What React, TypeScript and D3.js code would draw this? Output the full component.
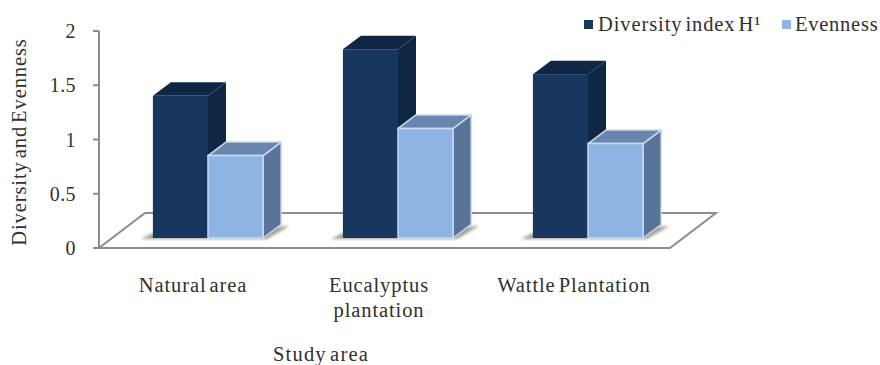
import React from "react";
import * as d3 from "d3";

const categories = ["Natural area", "Eucalyptus plantation", "Wattle Plantation"];
const categoryLines = [["Natural area"], ["Eucalyptus", "plantation"], ["Wattle Plantation"]];
const diversity = [1.31, 1.74, 1.51];
const evenness = [0.76, 1.01, 0.87];
const yTicks = [0, 0.5, 1, 1.5, 2];

const WIDTH = 880;
const HEIGHT = 365;
const FONT = "'Liberation Serif', serif";
const TEXT = "#303030";
const AXIS = "#8c8c8c";

// Floor plane corners and the oblique offset of the 3D projection
const axisX = 99;
const floorRight = 670;
const floorDepth = { dx: 46, dy: -35 };
const barDepth = { dx: 18, dy: -13.5 };
const barBaseY = 238;

const yAxis = d3.scaleLinear().domain([0, 2]).range([248, 31]);
const barHeight = (v: number) => yAxis(0) - yAxis(v);
const group = d3.scaleBand<string>().domain(categories).range([113, 683]).paddingInner(0.42).paddingOuter(0.21);
const series = d3.scaleBand<string>().domain(["d", "e"]).range([0, group.bandwidth()]);
const labelCentres = [193, 379, 574];

type Palette = { front: string; side: string; top: string; stroke: string };
const darkBar: Palette = { front: "#17375e", side: "#0f2745", top: "#0f2745", stroke: "none" };
const lightBar: Palette = { front: "#8eb4e3", side: "#5a7398", top: "#6a86ad", stroke: "#c6d9f1" };

const pts = (p: [number, number][]) => p.map((q) => q.join(",")).join(" ");

function Bar({ x, w, value, c }: { x: number; w: number; value: number; c: Palette }) {
  const top = barBaseY - barHeight(value);
  const { dx, dy } = barDepth;
  const sw = c.stroke === "none" ? 0 : 1.5;
  return (
    <g stroke={c.stroke} strokeWidth={sw} strokeLinejoin="round">
      <polygon points={pts([[x + w, top], [x + w + dx, top + dy], [x + w + dx, barBaseY + dy], [x + w, barBaseY]])} fill={c.side} />
      <polygon points={pts([[x, top], [x + dx, top + dy], [x + w + dx, top + dy], [x + w, top]])} fill={c.top} />
      <rect x={x} y={top} width={w} height={barBaseY - top} fill={c.front} />
    </g>
  );
}

export default function App() {
  const w = series.bandwidth();
  const line = d3.line();
  return (
    <svg
      width={WIDTH}
      height={HEIGHT}
      style={{ position: "absolute", left: 0, top: 0, background: "#fff", wordSpacing: -3 }}
      fontFamily={FONT}
      fontSize={20.5}
      letterSpacing={0.9}
      fill={TEXT}
    >
      <defs>
        <filter id="floorShadow" x="-20%" y="-50%" width="140%" height="200%">
          <feGaussianBlur stdDeviation="1.6" />
        </filter>
      </defs>

      {/* Value axis and floor outline */}
      <g fill="none" stroke={AXIS} strokeWidth={2}>
        <path d={line([[axisX, yAxis(2)], [axisX, yAxis(0)]])!} />
        {yTicks.map((t) => (
          <path key={t} d={line([[axisX - 6, yAxis(t)], [axisX, yAxis(t)]])!} />
        ))}
        <path
          d={line([
            [axisX, yAxis(0)],
            [axisX + floorDepth.dx, yAxis(0) + floorDepth.dy],
            [floorRight + floorDepth.dx, yAxis(0) + floorDepth.dy],
            [floorRight, yAxis(0)],
            [axisX, yAxis(0)],
          ])!}
        />
      </g>

      {yTicks.map((t) => (
        <text key={t} x={76} y={yAxis(t) + 7} textAnchor="end" fontSize={20} letterSpacing={0.4}>
          {t}
        </text>
      ))}

      {/* Bars, each pair with a soft shadow on the floor */}
      {categories.map((cat, i) => {
        const x0 = group(cat)!;
        const right = x0 + 2 * w;
        return (
          <g key={cat}>
            <polygon
              points={pts([[x0 - 12, barBaseY + 1], [right + 4, barBaseY + 1], [right + 26, barBaseY - 12], [right + 10, barBaseY - 11], [x0, barBaseY - 5]])}
              fill="#6f6f5e"
              opacity={0.65}
              filter="url(#floorShadow)"
            />
            <Bar x={x0 + series("d")!} w={w} value={diversity[i]} c={darkBar} />
            <Bar x={x0 + series("e")!} w={w} value={evenness[i]} c={lightBar} />
            {categoryLines[i].map((l, j) => (
              <text key={l} x={labelCentres[i]} y={292 + j * 25} textAnchor="middle">
                {l}
              </text>
            ))}
          </g>
        );
      })}

      <text transform="translate(26,142) rotate(-90)" textAnchor="middle">
        Diversity and Evenness
      </text>
      <text x={321} y={361} textAnchor="middle" letterSpacing={1.2}>
        Study area
      </text>

      {/* Legend */}
      <rect x={584} y={20} width={9} height={9} fill={darkBar.front} />
      <text x={598} y={31}>
        Diversity index H¹
      </text>
      <rect x={782} y={20} width={9} height={9} fill={lightBar.front} />
      <text x={795} y={31} letterSpacing={0.75}>
        Evenness
      </text>
    </svg>
  );
}
